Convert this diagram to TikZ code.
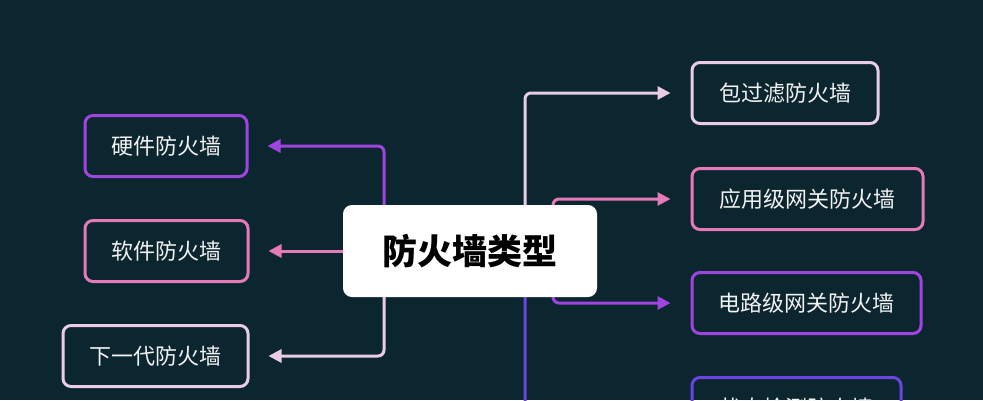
\documentclass[tikz,border=0pt]{standalone}
\usepackage{fontspec}
\setmainfont{Noto Sans CJK SC}
\usetikzlibrary{arrows.meta,backgrounds}
\definecolor{bgc}{HTML}{0C2630}
\definecolor{cpur}{HTML}{A044E0}
\definecolor{cpink}{HTML}{E67AB8}
\definecolor{clight}{HTML}{EACCE4}
\definecolor{cind}{HTML}{6A45E0}
\definecolor{ctext}{HTML}{F2F2F2}
\tikzset{
  leaf/.style={draw, line width=3pt, rounded corners=8pt, inner sep=0pt,
    minimum height=61pt, text=ctext, font=\fontsize{22pt}{26pt}\selectfont},
  hub/.style={fill=white, rounded corners=9pt, inner sep=0pt, minimum width=254pt,
    minimum height=92pt, text=black, font=\fontsize{35pt}{40pt}\selectfont\bfseries},
  conn/.style={line width=3pt, rounded corners=6pt, -{Triangle[length=13pt,width=13pt]}}
}
\begin{document}
\begin{tikzpicture}[x=1pt,y=-1pt]
\useasboundingbox (0,0) rectangle (983,400);
\clip (0,0) rectangle (983,400);
% nodes
\node[hub] (ctr) at (470,251) {防火墙类型};
\node[leaf, draw=cpur, minimum width=162pt] (hw) at (166,146) {硬件防火墙};
\node[leaf, draw=cpink, minimum width=163pt] (sw) at (166.5,251) {软件防火墙};
\node[leaf, draw=clight, minimum width=185pt] (ng) at (155.5,356) {下一代防火墙};
\node[leaf, draw=clight, minimum width=186pt] (pf) at (785,93) {包过滤防火墙};
\node[leaf, draw=cpink, minimum width=231pt] (ap) at (807.5,199) {应用级网关防火墙};
\node[leaf, draw=cpur, minimum width=229pt] (ci) at (806.5,303) {电路级网关防火墙};
\node[leaf, draw=cind, minimum width=209pt] (st) at (796.5,408) {状态检测防火墙};
\coordinate (lx) at (384,0);
\coordinate (px) at (525,0);
\coordinate (ax) at (553,0);
\begin{pgfonlayer}{background}
\fill[bgc] (0,0) rectangle (983,400);
\draw[conn, cpur, shorten >=19pt] (ctr.center -| lx) |- (hw.east);
\draw[conn, cpink, shorten >=19pt] (ctr.center) -- (sw.east);
\draw[conn, clight, shorten >=19pt] (ctr.center -| lx) |- (ng.east);
\draw[conn, clight, shorten >=20pt] (ctr.center -| px) |- (pf.west);
\draw[conn, cpink, shorten >=20pt] (ctr.center -| ax) |- (ap.west);
\draw[conn, cpur, shorten >=20pt] (ctr.center -| ax) |- (ci.west);
\draw[conn, cind, shorten >=20pt] (ctr.center -| px) |- (st.west);
\end{pgfonlayer}
\end{tikzpicture}
\end{document}
